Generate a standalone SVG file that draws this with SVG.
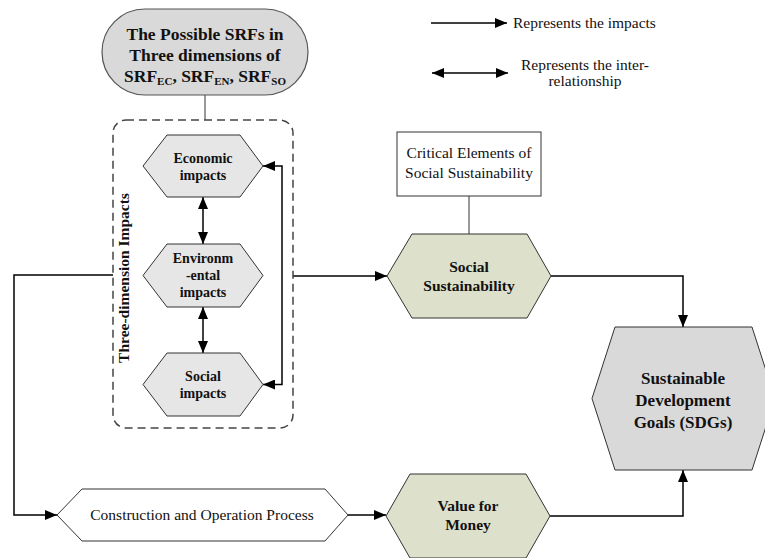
<svg xmlns="http://www.w3.org/2000/svg" width="765" height="558" viewBox="0 0 765 558">
<defs>
<marker id="ah" markerUnits="userSpaceOnUse" markerWidth="12" markerHeight="10" refX="12" refY="5" orient="auto-start-reverse">
<path d="M0,0 L12,5 L0,10 z" fill="#000"/>
</marker>
<style>
.b{font-family:"Liberation Serif","Times New Roman",serif;font-weight:bold;fill:#111;text-anchor:middle}
.r{font-family:"Liberation Serif","Times New Roman",serif;fill:#111;text-anchor:middle}
.hexg{fill:#e6e6e6;stroke:#333;stroke-width:1}
.hexgr{fill:#dde0cb;stroke:#333;stroke-width:1}
.con{fill:none;stroke:#000;stroke-width:1.5}
.thin{fill:none;stroke:#333;stroke-width:1}
</style>
</defs>
<rect width="765" height="558" fill="#fff"/>

<g id="legend">
<line x1="431" y1="23" x2="507" y2="23" class="con" marker-end="url(#ah)"/>
<text x="513" y="28" class="r" style="text-anchor:start" font-size="15.5">Represents the impacts</text>
<line x1="432" y1="73" x2="508" y2="73" class="con" marker-start="url(#ah)" marker-end="url(#ah)"/>
<text x="585" y="70" class="r" font-size="15.5">Represents the inter-</text>
<text x="585" y="86" class="r" font-size="15.5">relationship</text>
</g>

<g id="connectors">
<line x1="205" y1="95" x2="205" y2="120" class="thin" stroke="#555"/>
<line x1="203" y1="197" x2="203" y2="244" class="con" marker-start="url(#ah)" marker-end="url(#ah)"/>
<line x1="203" y1="307" x2="203" y2="353" class="con" marker-start="url(#ah)" marker-end="url(#ah)"/>
<path d="M263,166 L282,166 L282,384.5 L263,384.5" class="con" marker-start="url(#ah)" marker-end="url(#ah)"/>
<path d="M113,275 L14,275 L14,515 L57,515" class="con" marker-end="url(#ah)"/>
<path d="M293,276 L387,276" class="con" marker-end="url(#ah)"/>
<line x1="469" y1="196" x2="469" y2="234" class="thin"/>
<path d="M551,276 L683,276 L683,327" class="con" marker-end="url(#ah)"/>
<path d="M550,516 L683,516 L683,470" class="con" marker-end="url(#ah)"/>
<path d="M348,515 L386,515" class="con" marker-end="url(#ah)"/>
</g>

<g id="srfs">
<rect x="102" y="9" width="206" height="86" rx="43" ry="43" fill="#d9d9d9" stroke="#555" stroke-width="1.2"/>
<text x="205" y="40" class="b" font-size="17.5">The Possible SRFs in</text>
<text x="205" y="61" class="b" font-size="17.5">Three dimensions of</text>
<text x="205" y="82" class="b" font-size="17.5">SRF<tspan font-size="11" dy="3">EC</tspan><tspan dy="-3">, SRF</tspan><tspan font-size="11" dy="3">EN</tspan><tspan dy="-3">, SRF</tspan><tspan font-size="11" dy="3">SO</tspan></text>
</g>

<g id="three-dimension">
<rect x="113" y="120" width="180" height="308" rx="13" ry="13" fill="none" stroke="#444" stroke-width="1.5" stroke-dasharray="8,5"/>
<text transform="translate(129,278) rotate(-90)" class="b" font-size="15.5">Three-dimension Impacts</text>
</g>

<g id="economic">
<polygon points="143,166 167,135 240,135 263,166 240,197 167,197" class="hexg"/>
<text x="203" y="163" class="b" font-size="14">Economic</text>
<text x="203" y="180" class="b" font-size="14">impacts</text>
</g>

<g id="environmental">
<polygon points="143,275.5 167,244 240,244 263,275.5 240,307 167,307" class="hexg"/>
<text x="203" y="263" class="b" font-size="14">Environm</text>
<text x="203" y="280" class="b" font-size="14">-ental</text>
<text x="203" y="297" class="b" font-size="14">impacts</text>
</g>

<g id="social-impacts">
<polygon points="143,384.5 167,353 240,353 263,384.5 240,416 167,416" class="hexg"/>
<text x="203" y="381" class="b" font-size="14">Social</text>
<text x="203" y="398" class="b" font-size="14">impacts</text>
</g>

<g id="critical">
<rect x="397" y="132" width="144" height="64" fill="#fff" stroke="#333" stroke-width="1"/>
<text x="469" y="158" class="r" font-size="15.5">Critical Elements of</text>
<text x="469" y="178" class="r" font-size="15.5">Social Sustainability</text>
</g>

<g id="social-sustainability">
<polygon points="387,276 412,234 527,234 551,276 527,318 412,318" class="hexgr"/>
<text x="469" y="272" class="b" font-size="15.5">Social</text>
<text x="469" y="291" class="b" font-size="15.5">Sustainability</text>
</g>

<g id="sdgs">
<polygon points="592,398.5 615,327 752,327 775,398.5 752,470 615,470" fill="#d9d9d9" stroke="#333" stroke-width="1"/>
<text x="683" y="384" class="b" font-size="17">Sustainable</text>
<text x="683" y="406" class="b" font-size="17">Development</text>
<text x="683" y="428" class="b" font-size="17">Goals (SDGs)</text>
</g>

<g id="construction">
<polygon points="57,515 82,489 325,489 348,515 325,541 82,541" fill="#fff" stroke="#333" stroke-width="1"/>
<text x="202" y="520" class="r" font-size="15.5">Construction and Operation Process</text>
</g>

<g id="value-for-money">
<polygon points="386,516 410,474 526,474 550,516 526,558 410,558" class="hexgr"/>
<text x="468" y="511" class="b" font-size="15.5">Value for</text>
<text x="468" y="530" class="b" font-size="15.5">Money</text>
</g>
</svg>
